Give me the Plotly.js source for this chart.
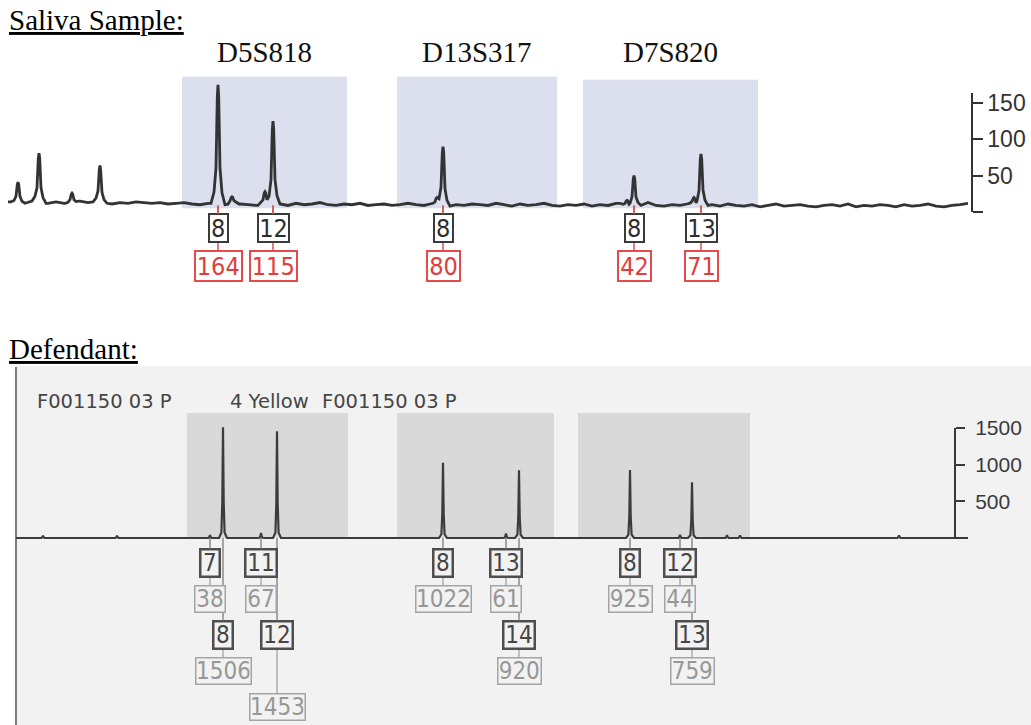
<!DOCTYPE html>
<html><head><meta charset="utf-8">
<script src="https://cdn.plot.ly/plotly-3.0.1.min.js"></script>
<style>html,body{margin:0;padding:0;background:#fff;}#chart{width:1031px;height:725px;}</style>
</head><body><div id="chart"></div>
<script>
// ================= DATA =================
const loci = ['D5S818', 'D13S317', 'D7S820'];

// Saliva sample (top electropherogram)
const salivaBinStart = [182, 397, 583];
const salivaBinEnd = [347, 557, 758];
const salivaBinTop = [186, 186, 182];
const salivaAlleles = ['8', '12', '8', '8', '13'];
const salivaPeakPos = [218, 273, 443, 634, 701];
const salivaRFU = [164, 115, 80, 42, 71];
const salivaMinorPos = [18, 39, 72, 100, 232, 265, 437, 627, 694];
const salivaMinorRFU = [28, 68, 13, 50, 8, 16, 10, 6, 12];
const salivaBaseStart = 8, salivaBaseStep = 8;
const salivaBaseline = [
  14,13,12,15,13,12,14,12,13,15,
  13,14,12,11,13,12,14,13,12,13,
  11,12,13,11,10,12,11,10,13,11,
  10,9,12,10,11,9,12,10,11,13,
  10,9,11,10,12,9,10,11,9,10,
  12,10,9,11,10,8,10,9,11,10,
  9,12,10,8,11,9,10,12,9,8,
  10,9,11,8,10,9,12,10,8,9,
  13,9,8,10,9,11,8,9,10,8,
  11,9,8,10,7,9,11,8,9,10,
  8,7,9,10,8,11,7,9,8,10,
  9,7,10,8,9,11,8,7,9,10,12];
const salivaTicks = [0, 50, 100, 150];
const salivaTickText = ['', '50', '100', '150'];

// Defendant (bottom electropherogram)
const defBinStart = [187, 397, 578];
const defBinEnd = [348, 554, 750];
const defBinTop = [1700, 1700, 1700];
const defAlleles = ['7', '8', '11', '12', '8', '13', '14', '8', '12', '13'];
const defPeakPos = [210, 223, 261, 277, 443, 506, 519, 630, 680, 692];
const defRFU = [38, 1506, 67, 1453, 1022, 61, 920, 925, 44, 759];
const defMinorPos = [43, 117, 727, 740, 899];
const defMinorRFU = [30, 30, 40, 35, 35];
const defTraceStart = 16, defTraceEnd = 968;
const defTicks = [0, 500, 1000, 1500];
const defTickText = ['', '500', '1000', '1500'];
const defRunLabels = ['F001150 03 P', '4 Yellow', 'F001150 03 P'];

// ================= LAYOUT / STYLE =================
const W = 1031, H = 725;
const topZeroPx = 212, topPPU = 0.727, topAxisMax = 164;
const botZeroPx = 538, botPPU = 0.0735, botAxisMax = 1500;
const topAnchorVal = 9;
const defAlleleRow = [0, 2, 0, 2, 0, 0, 2, 0, 0, 2];
const defRfuRow = [1, 3, 1, 4, 1, 1, 3, 1, 1, 3];
const BOXFONT = 'DejaVu Sans Condensed, Liberation Sans Narrow, Arial Narrow, sans-serif';
const SERIF = 'Liberation Serif, Times New Roman, serif';

function yRange(zeroPx, ppu) { return [-(H - zeroPx) / ppu, zeroPx / ppu]; }

const topTemplate = [[-7,0],[-4,0.1],[-2,0.3],[-0.7,0.9],[0,1],[0.7,0.9],[2,0.3],[4,0.1],[7,0]];
const botTemplate = [[-4,0],[-1.6,0.05],[-0.7,0.32],[0,1],[0.7,0.32],[1.6,0.05],[4,0]];
function tmpl(t, dx) {
  if (dx <= t[0][0] || dx >= t[t.length-1][0]) return 0;
  for (let k = 1; k < t.length; k++) {
    if (dx <= t[k][0]) { const [x0,y0] = t[k-1], [x1,y1] = t[k]; return y0 + (y1-y0)*(dx-x0)/(x1-x0); }
  }
  return 0;
}
function buildTrace(baseXs, baseYs, peakX, peakH, t) {
  const half = t[t.length-1][0];
  const xs = new Set();
  baseXs.forEach(x => { if (!peakX.some(p => Math.abs(p - x) < half)) xs.add(x); });
  peakX.forEach(p => t.forEach(([dx]) => xs.add(p + dx)));
  const sorted = [...xs].sort((a, b) => a - b);
  const baseAt = x => { let best = 0, bd = Infinity; baseXs.forEach((bx, i) => { const d = Math.abs(bx - x); if (d < bd) { bd = d; best = baseYs[i]; } }); return best; };
  const ys = sorted.map(x => { let m = 0; peakX.forEach((p, i) => { m = Math.max(m, peakH[i] * tmpl(t, x - p)); }); return baseAt(x) + m; });
  return { x: sorted, y: ys };
}

const salBaseX = salivaBaseline.map((_, i) => salivaBaseStart + i * salivaBaseStep);
const topTr = buildTrace(salBaseX, salivaBaseline,
  salivaPeakPos.concat(salivaMinorPos), salivaRFU.concat(salivaMinorRFU), topTemplate);
const botTr = buildTrace([defTraceStart, defTraceEnd], [0, 0],
  defPeakPos.concat(defMinorPos), defRFU.concat(defMinorRFU), botTemplate);

const traces = [
  { type: 'scatter', mode: 'lines', x: topTr.x, y: topTr.y, xaxis: 'x', yaxis: 'y',
    line: { color: '#333333', width: 2.8, simplify: false }, hoverinfo: 'skip', showlegend: false },
  { type: 'scatter', mode: 'lines', x: botTr.x, y: botTr.y, xaxis: 'x', yaxis: 'y2',
    line: { color: '#3c3c3c', width: 2.2, simplify: false }, hoverinfo: 'skip', showlegend: false },
  { type: 'scatter', mode: 'lines', x: [], y: [], xaxis: 'x', yaxis: 'y3', showlegend: false, hoverinfo: 'skip' },
  { type: 'scatter', mode: 'lines', x: [], y: [], xaxis: 'x', yaxis: 'y4', showlegend: false, hoverinfo: 'skip' }
];

const shapes = [];
shapes.push({ type: 'rect', xref: 'paper', yref: 'paper', x0: 16/W, x1: 1, y0: 0, y1: 1 - 366/H,
  fillcolor: '#f2f2f2', line: { width: 0 }, layer: 'below' });
shapes.push({ type: 'line', xref: 'paper', yref: 'paper', x0: 16/W, x1: 16/W, y0: 0, y1: 1 - 367/H,
  line: { color: '#555', width: 1.5 }, layer: 'below' });
loci.forEach((l, i) => {
  shapes.push({ type: 'rect', xref: 'x', yref: 'y', x0: salivaBinStart[i], x1: salivaBinEnd[i], y0: 5, y1: salivaBinTop[i],
    fillcolor: '#dcdfed', line: { width: 0 }, layer: 'below' });
  shapes.push({ type: 'rect', xref: 'x', yref: 'y2', x0: defBinStart[i], x1: defBinEnd[i], y0: 0, y1: defBinTop[i],
    fillcolor: '#d9d9d9', line: { width: 0 }, layer: 'below' });
});

const ann = [];
ann.push({ xref: 'paper', yref: 'paper', x: 7/W, y: 1 - 20/H, xanchor: 'left', yanchor: 'middle', showarrow: false,
  text: '<u>Saliva Sample:</u>', font: { family: SERIF, size: 29, color: '#000' } });
ann.push({ xref: 'paper', yref: 'paper', x: 7/W, y: 1 - 349/H, xanchor: 'left', yanchor: 'middle', showarrow: false,
  text: '<u>Defendant:</u>', font: { family: SERIF, size: 29, color: '#000' } });
loci.forEach((l, i) => {
  ann.push({ xref: 'x', yref: 'paper', x: (salivaBinStart[i] + salivaBinEnd[i]) / 2, y: 1 - 52/H, xanchor: 'center', yanchor: 'middle',
    showarrow: false, text: l, font: { family: SERIF, size: 29, color: '#111' } });
});
const runX = [35, 228, 320];
defRunLabels.forEach((t, i) => {
  ann.push({ xref: 'x', yref: 'paper', x: runX[i], y: 1 - 401/H, xanchor: 'left', yanchor: 'middle', showarrow: false,
    text: t, font: { family: 'DejaVu Sans, sans-serif', size: 19.5, color: '#454545' } });
});

function boxW(txt, per) { return txt.length * per + 2; }
const topAnchorPx = topZeroPx - topAnchorVal * topPPU;
const salItems = [];
salivaAlleles.forEach((a, i) => {
  salItems.push({ row: 1, x: salivaPeakPos[i], text: String(salivaRFU[i]), kind: 'rfu' });
  salItems.push({ row: 0, x: salivaPeakPos[i], text: a, kind: 'allele' });
});
salItems.sort((p, q) => q.row - p.row).forEach(it => {
  const centerPx = it.row === 0 ? 228 : 266;
  const isR = it.kind === 'rfu';
  ann.push({ xref: 'x', yref: 'y', x: it.x, y: topAnchorVal, showarrow: true, ax: 0, ay: centerPx - topAnchorPx,
    arrowhead: 0, arrowwidth: 1.5, arrowcolor: '#d9534f', standoff: 0,
    text: it.text, width: boxW(it.text, isR ? 13.5 : 12.5), height: isR ? 26 : 24, borderpad: 1, borderwidth: 2,
    bordercolor: isR ? '#e64a4a' : '#3a3a3a', bgcolor: '#ffffff',
    font: { family: BOXFONT, size: 25, color: isR ? '#e23c3c' : '#2e2e2e' } });
});
const defItems = [];
defAlleles.forEach((a, i) => {
  defItems.push({ row: defRfuRow[i], x: defPeakPos[i], text: String(defRFU[i]), kind: 'rfu' });
  defItems.push({ row: defAlleleRow[i], x: defPeakPos[i], text: a, kind: 'allele' });
});
defItems.sort((p, q) => q.row - p.row).forEach(it => {
  const isR = it.kind === 'rfu';
  ann.push({ xref: 'x', yref: 'y2', x: it.x, y: 0, showarrow: true, ax: 0, ay: 24.5 + 36 * it.row,
    arrowhead: 0, arrowwidth: 1, arrowcolor: '#8a8a8a', standoff: 0,
    text: it.text, width: boxW(it.text, 12.5), height: 23, borderpad: 1, borderwidth: isR ? 1.5 : 2.5,
    bordercolor: isR ? '#a4a4a4' : '#4e4e4e', bgcolor: '#f2f2f2',
    font: { family: BOXFONT, size: 24, color: isR ? '#979797' : '#454545' } });
});

const layout = {
  width: W, height: H, margin: { l: 0, r: 0, t: 0, b: 0, pad: 0 },
  paper_bgcolor: '#ffffff', plot_bgcolor: 'rgba(0,0,0,0)', showlegend: false,
  xaxis: { domain: [0, 1], range: [0, W], visible: false, fixedrange: true, anchor: 'y' },
  yaxis: { domain: [0, 1], range: yRange(topZeroPx, topPPU), visible: false, fixedrange: true, anchor: 'x' },
  yaxis2: { domain: [0, 1], range: yRange(botZeroPx, botPPU), visible: false, fixedrange: true, anchor: 'x', overlaying: 'y' },
  yaxis3: { domain: [1 - topZeroPx/H, 1 - (topZeroPx - topAxisMax * topPPU)/H], range: [0, topAxisMax],
    anchor: 'free', position: 971.7/W, side: 'right', showline: true, linecolor: '#333', linewidth: 2,
    ticks: 'outside', ticklen: 10, tickwidth: 2, tickcolor: '#333', tickvals: salivaTicks, ticktext: salivaTickText,
    tickfont: { family: 'Liberation Sans, Arial, sans-serif', size: 23, color: '#333' },
    showgrid: false, zeroline: false, fixedrange: true },
  yaxis4: { domain: [1 - botZeroPx/H, 1 - (botZeroPx - botAxisMax * botPPU)/H], range: [0, botAxisMax],
    anchor: 'free', position: 955/W, side: 'right', showline: true, linecolor: '#3a3a3a', linewidth: 2,
    ticks: 'outside', ticklen: 9, tickwidth: 2, tickcolor: '#3a3a3a', tickvals: defTicks, ticktext: defTickText,
    ticklabelstandoff: 6,
    tickfont: { family: 'Liberation Sans, Arial, sans-serif', size: 21, color: '#3a3a3a' },
    showgrid: false, zeroline: false, fixedrange: true },
  shapes: shapes, annotations: ann
};
Plotly.newPlot('chart', traces, layout, { staticPlot: true, displayModeBar: false });
</script></body></html>
